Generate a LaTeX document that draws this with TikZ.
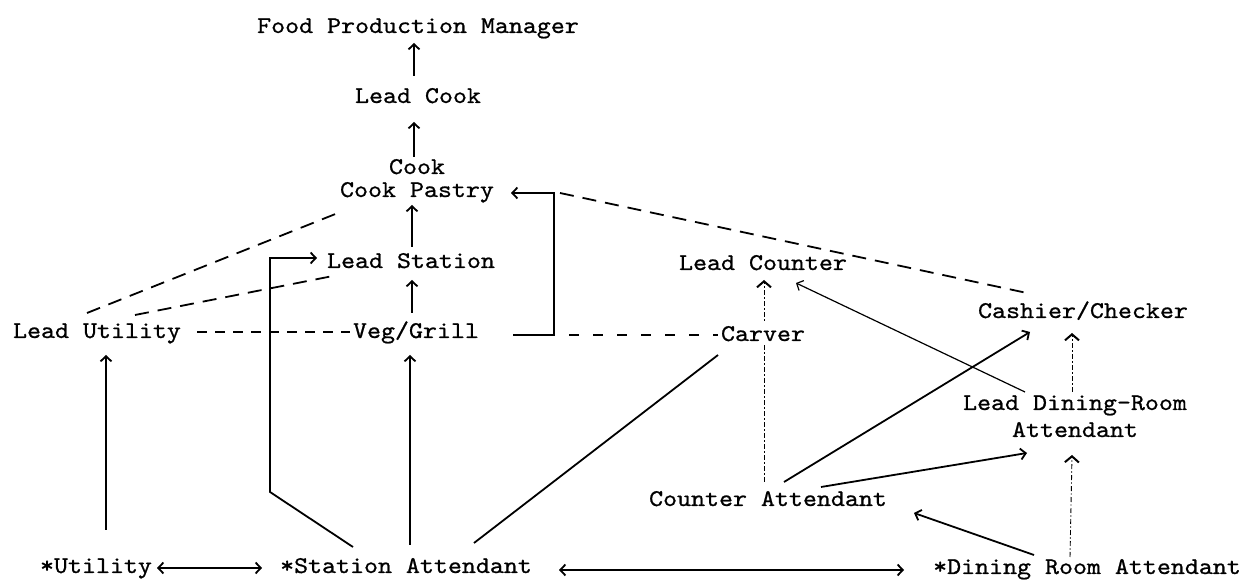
\documentclass[tikz,border=0pt]{standalone}
\usepackage{fontspec}
\newfontfamily\twfont{lmmono10-regular}[Extension=.otf, FakeStretch=1.11, FakeBold=0.8]
\usetikzlibrary{arrows.meta,calc}

\begin{document}
\begin{tikzpicture}[x=0.5pt,y=-0.5pt,
  lbl/.style={font=\twfont\fontsize{12}{11.5}\selectfont, inner sep=0pt, anchor=base, align=center},
  lbltall/.style={font=\twfont\fontsize{12}{13.5}\selectfont, inner sep=0pt, anchor=base, align=center},
  >={Straight Barb[length=2.6pt,width=5.5pt]},
  Hat/.tip={Straight Barb[length=3pt,width=7pt,line width=1pt]},
  solid line/.style={line width=0.9pt},
  thin line/.style={line width=0.6pt},
  dashline/.style={line width=0.9pt, dash pattern=on 7pt off 4.5pt},
  shortdash/.style={line width=0.9pt, dash pattern=on 5pt off 4pt},
  dotline/.style={line width=0.45pt, dash pattern=on 2.5pt off 1.2pt on 0.6pt off 1.2pt},
]
\useasboundingbox (0,0) rectangle (1248,581);
\fill[white] (0,0) rectangle (1248,581);

% positions (base anchor = baseline of the last line)
\node[lbl] (fpm)      at (418,33)  {Food Production Manager};
\node[lbl] (lcook)    at (418,103) {Lead Cook};
\node[lbl] (cook)     at (417,197) {Cook\\Cook Pastry};
\node[lbl] (lstation) at (411,268) {Lead Station};
\node[lbl] (veg)      at (416,338) {Veg/Grill};
\node[lbl] (lutil)    at (97,338)  {Lead Utility};
\node[lbl] (lcounter) at (763,270) {Lead Counter};
\node[lbl] (cashier)  at (1083,318) {Cashier/Checker};
\node[lbltall] (ldra) at (1075,437) {Lead Dining-Room\\Attendant};
\node[lbl] (catt)     at (768,506) {Counter Attendant};
\node[lbl] (util)     at (96,573)  {*Utility};
\node[lbl] (station)  at (406,573) {*Station Attendant};
\node[lbl] (dra)      at (1087,574) {*Dining Room Attendant};

% dotted link behind the Carver label
\draw[dotline,-{Hat}] ($(catt.base)+(-4,-24)$) -- ($(lcounter.base)+(1,10)$);
\node[lbl, fill=white, inner ysep=2pt] (carver) at (763,341) {Carver};

% kitchen chain
\draw[solid line,->] ($(lcook.base)+(-4,-27)$) -- ($(fpm.base)+(-4,10)$);
\draw[solid line,->] ($(cook.base)+(-3,-40)$) -- ($(lcook.base)+(-4,19)$);
\draw[solid line,->] ($(lstation.base)+(1,-21)$) -- ($(cook.base)+(-5,8)$);
\draw[solid line,->] ($(veg.base)+(-4,-25)$) -- ($(lstation.base)+(1,12)$);
\draw[solid line,->] ($(util.base)+(10,-43)$) -- ($(lutil.base)+(9,17)$);
\draw[solid line,->] ($(station.base)+(4,-28)$) -- ($(veg.base)+(-6,17)$);

% station attendant to lead station
\coordinate (sbend) at (270,492);
\draw[solid line,->] ($(station.base)+(-53,-26)$) -- (sbend) |- ($(lstation.base)+(-94,-10)$);

% veg/grill bracket up to cook pastry
\coordinate (brkB) at (554,335);
\coordinate (brkT) at (554,193);
\draw[solid line,->] ($(veg.base)+(97,-3)$) -- (brkB) -- (brkT) -- ($(cook.base)+(94,-4)$);

% dashed links
\draw[shortdash] ($(lutil.base)+(100,-6)$) -- ($(veg.base)+(-66,-6)$);
\draw[dashline] ($(lutil.base)+(-10,-25)$) -- ($(cook.base)+(-74,14)$);
\draw[dashline] ($(lutil.base)+(38,-23)$) -- ($(lstation.base)+(-78,8)$);
\draw[dashline] ($(brkT)+(6,0)$) -- ($(cashier.base)+(-56,-25)$);
\draw[line width=0.9pt, dash pattern=on 5pt off 7pt] ($(brkB)+(15,0)$) -- ($(carver.base)+(-45,-6)$);

% service side
\draw[solid line] ($(station.base)+(68,-30)$) -- ($(carver.base)+(-45,14)$);
\draw[thin line,->] ($(ldra.base)+(-50,-45)$) -- ($(lcounter.base)+(33,13)$);
\draw[solid line,->] ($(catt.base)+(16,-24)$) -- ($(cashier.base)+(-53,14)$);
\draw[solid line,->] ($(catt.base)+(53,-19)$) -- ($(ldra.base)+(-48,16)$);
\draw[solid line,->] ($(dra.base)+(-53,-19)$) -- ($(catt.base)+(146,7)$);
\draw[dotline,-{Hat}] ($(dra.base)+(-17,-17)$) -- ($(ldra.base)+(-3,18)$);
\draw[dotline,-{Hat}] ($(ldra.base)+(-3,-45)$) -- ($(cashier.base)+(-11,15)$);

% bottom row links
\draw[solid line,<->] ($(station.base)+(153,-3)$) -- ($(dra.base)+(-183,-4)$);
\draw[solid line,<->] ($(util.base)+(61,-5)$) -- ($(station.base)+(-144,-5)$);
\end{tikzpicture}
\end{document}
